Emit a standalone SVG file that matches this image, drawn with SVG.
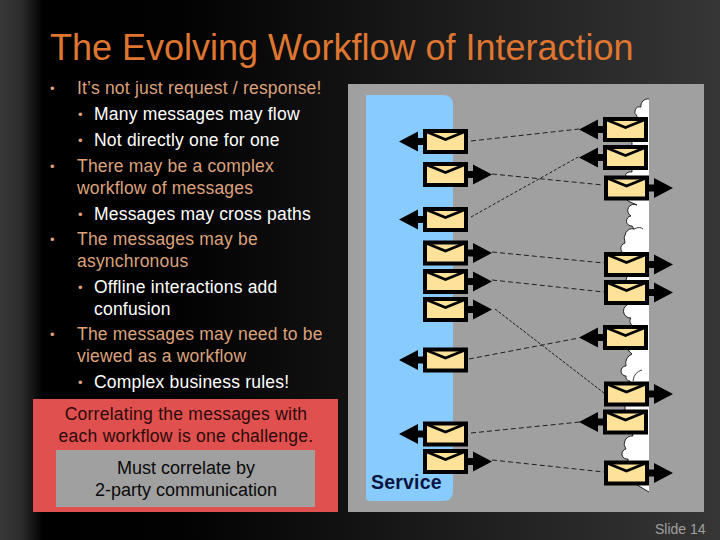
<svg xmlns="http://www.w3.org/2000/svg" width="720" height="540" viewBox="0 0 720 540">
<style>
text{font-family:"Liberation Sans",Arial,sans-serif}
.l1{font-size:17.5px;fill:#dca27c;letter-spacing:.2px}
.l2{font-size:17.5px;fill:#fff;letter-spacing:.2px}
.b2{font-size:13px;fill:#e0a27c}
.cap{font-size:17.5px;fill:#2a0a0a;text-anchor:middle;letter-spacing:.25px}
.cap2{font-size:18px;fill:#0a0a0a;text-anchor:middle}
.env{fill:#ffe29a;stroke:#000;stroke-width:4}
.flap{fill:none;stroke:#000;stroke-width:2.8}
.hd{fill:#000}
.dash{fill:none;stroke:#111;stroke-width:.9;stroke-dasharray:5 3}
</style>
<defs>
<linearGradient id="bg" x1="0" x2="1" y1="0" y2="0">
<stop offset="0" stop-color="#383838"/><stop offset=".03" stop-color="#2c2c2c"/><stop offset=".06" stop-color="#000"/><stop offset=".25" stop-color="#020202"/><stop offset="1" stop-color="#363636"/>
</linearGradient>
<g id="el"><rect class="env" x="2" y="2" width="41" height="21"/><path class="flap" d="M4 3L22.500 10.500L41 3"/><path class="hd" d="M0 9H-5V16H0ZM-5 2.500V22.500L-24 12.500Z"/></g>
<g id="er"><rect class="env" x="2" y="2" width="41" height="21"/><path class="flap" d="M4 3L22.500 10.500L41 3"/><path class="hd" d="M45 9H50V16H45ZM50 2.500V22.500L69 12.500Z"/></g>
</defs>
<rect width="720" height="540" fill="url(#bg)"/>
<text id="title" x="50" y="60" font-size="36" fill="#de7632">The Evolving Workflow of Interaction</text>
<g id="bullets">
<text class="b2" x="50" y="93">•</text><text class="b2" x="50" y="171">•</text><text class="b2" x="50" y="244">•</text><text class="b2" x="50" y="339">•</text>
<text class="b2" x="78" y="119">•</text><text class="b2" x="78" y="145">•</text><text class="b2" x="78" y="219">•</text><text class="b2" x="78" y="292">•</text><text class="b2" x="78" y="387">•</text>
</g>
<g id="body">
<text class="l1" x="77" y="94">It’s not just request / response!</text>
<text class="l2" x="94" y="120">Many messages may flow</text>
<text class="l2" x="94" y="146">Not directly one for one</text>
<text class="l1" x="77" y="172">There may be a complex</text>
<text class="l1" x="77" y="194">workflow of messages</text>
<text class="l2" x="94" y="220">Messages may cross paths</text>
<text class="l1" x="77" y="245">The messages may be</text>
<text class="l1" x="77" y="267">asynchronous</text>
<text class="l2" x="94" y="293">Offline interactions add</text>
<text class="l2" x="94" y="315">confusion</text>
<text class="l1" x="77" y="340">The messages may need to be</text>
<text class="l1" x="77" y="362">viewed as a workflow</text>
<text class="l2" x="94" y="388">Complex business rules!</text>
</g>
<g id="callout">
<rect x="33" y="399" width="305" height="113" fill="#e0504e"/>
<text class="cap" x="186" y="420">Correlating the messages with</text>
<text class="cap" x="186" y="442">each workflow is one challenge.</text>
<rect x="56" y="450" width="259" height="57" fill="#a0a0a0"/>
<text class="cap2" x="186" y="474">Must correlate by</text>
<text class="cap2" x="186" y="496">2-party communication</text>
</g>
<g id="panel">
<rect x="348" y="84" width="356" height="428" fill="#a0a0a0"/>
</g>
<g id="service">
<path d="M366 95H443Q453 95 453 105V491Q453 501 443 501H370Q366 501 366 497Z" fill="#87cbff"/>
<text x="371" y="489" font-size="19.500" font-weight="bold" fill="#0a1440" letter-spacing=".2">Service</text>
</g>
<g id="cloud">
<path d="M649 99A7 7 0 0 0 641 107A5 5 0 0 0 637 116L632 142V146L632 172A5 3 0 0 0 626 176L626 199L628 201L637 205A6 6 0 0 0 631 216A5 5 0 0 0 632 226L634 229A8 10 0 0 0 625 243A5 5 0 0 0 628 254L627 277L626 280L630 304A6 6 0 0 0 631 318A5 5 0 0 0 634 326L634 349L628 350L632 354A10 10 0 0 0 626 366A5 5 0 0 0 626 376A4 4 0 0 0 630 381L625 407V409L633 436A8 8 0 0 0 626 449A5 5 0 0 0 628 459L628 462L637 485L649 492" fill="#fff" stroke="#111" stroke-width=".9"/>
<path d="M634 229Q640 226 643 229M633 381Q634 372 642 370" fill="none" stroke="#111" stroke-width=".8"/>
</g>
<g id="connectors">
<path class="dash" d="M471 141L579 129"/>
<path class="dash" d="M492 174L603 185"/>
<path class="dash" d="M471 217L580 156" style="stroke-dasharray:3 2"/>
<path class="dash" d="M492 252L604 263"/>
<path class="dash" d="M492 280L604 292"/>
<path class="dash" d="M495 309L604 393" style="stroke-dasharray:3 1.500"/>
<path class="dash" d="M469 359L579 338"/>
<path class="dash" d="M471 433L580 422"/>
<path class="dash" d="M492 460L604 472"/>
</g>
<g id="service-messages">
<use href="#el" x="423" y="129"/>
<use href="#er" x="423" y="162"/>
<use href="#el" x="423" y="207"/>
<use href="#er" x="423" y="240.500"/>
<use href="#er" x="423" y="269"/>
<use href="#er" x="423" y="297"/>
<use href="#el" x="423" y="347.500"/>
<use href="#el" x="423" y="421.500"/>
<use href="#er" x="423" y="449"/>
</g>
<g id="partner-messages">
<use href="#el" x="603" y="117"/>
<use href="#el" x="603" y="145"/>
<use href="#er" x="604" y="175.500"/>
<use href="#er" x="604" y="252"/>
<use href="#er" x="604" y="280"/>
<use href="#el" x="603" y="325"/>
<use href="#er" x="604" y="381.500"/>
<use href="#el" x="603" y="409.500"/>
<use href="#er" x="604" y="460.500"/>
</g>
<text id="slide" x="655" y="534" font-size="14" fill="#a0a0a0">Slide 14</text>
</svg>
